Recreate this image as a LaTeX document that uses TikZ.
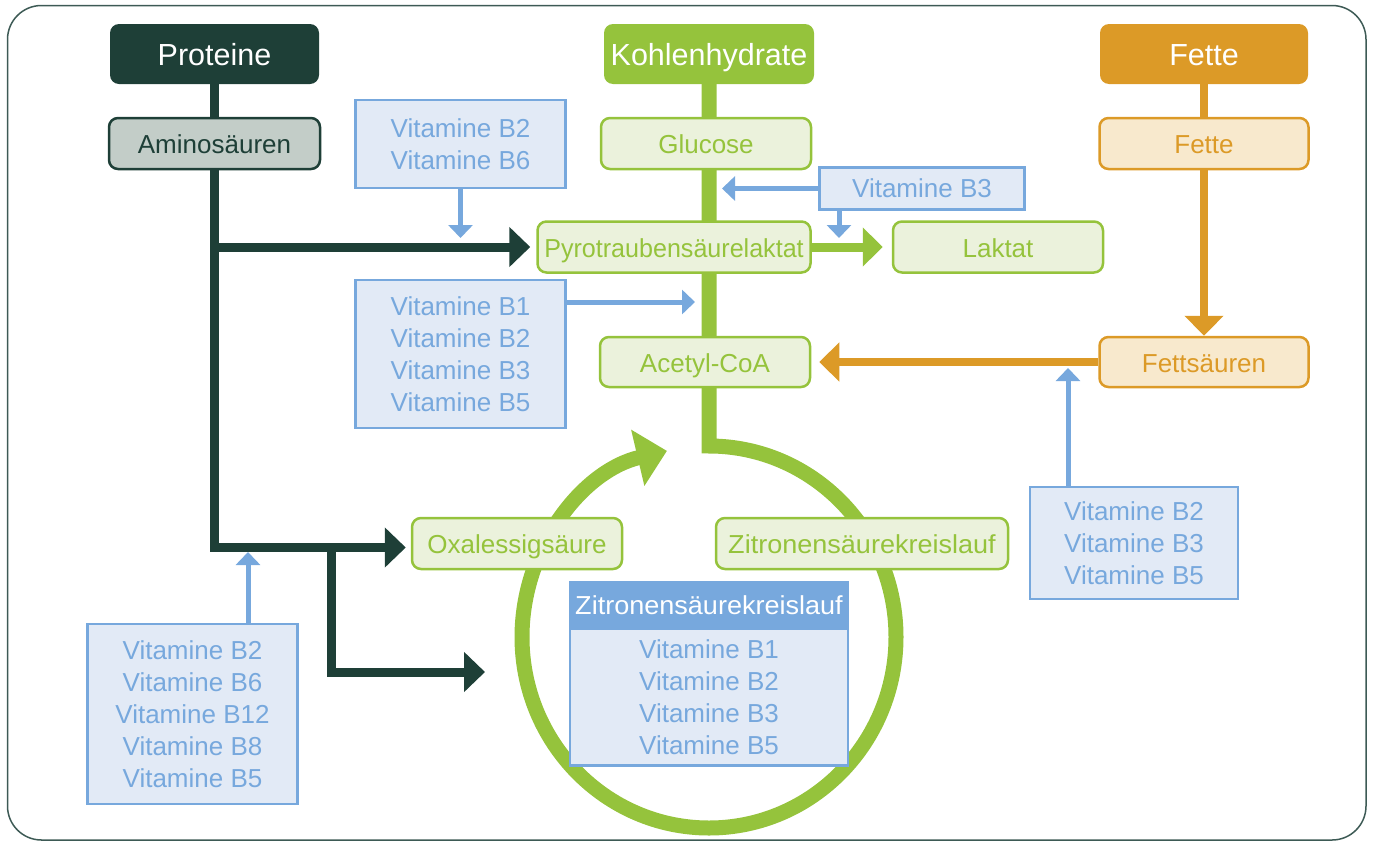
\documentclass[tikz,border=0pt]{standalone}
\usepackage{fontspec}
\setmainfont{Liberation Sans}
\usetikzlibrary{arrows.meta}
\definecolor{dkg}{HTML}{1E3F37}
\definecolor{amf}{HTML}{C3CDC8}
\definecolor{grn}{HTML}{95C33C}
\definecolor{gfill}{HTML}{EBF2DC}
\definecolor{org}{HTML}{DC9A27}
\definecolor{ofill}{HTML}{F8E9CD}
\definecolor{vblue}{HTML}{77A8DD}
\definecolor{vlight}{HTML}{E2EAF6}
\definecolor{frm}{HTML}{3D5A55}
\pgfdeclarelayer{bg}
\pgfsetlayers{bg,main}
\begin{document}
\begin{tikzpicture}[x=1pt,y=1pt,
  head/.style={rounded corners=9pt, minimum height=60pt, text=white, font=\fontsize{30.5}{36}\selectfont, inner sep=0pt, text height=23pt, text depth=0pt},
  sbox/.style={rounded corners=9pt, line width=2.5pt, minimum height=51pt, font=\fontsize{26}{32}\selectfont, inner sep=0pt, text height=20pt, text depth=0pt},
  gbox/.style={sbox, draw=grn, fill=gfill, text=grn},
  obox/.style={sbox, draw=org, fill=ofill, text=org},
  vbox/.style={draw=vblue, fill=vlight, line width=2.5pt, text=vblue, align=center, font=\fontsize{26}{32}\selectfont, inner sep=0pt},
  dkl/.style={draw=dkg, line width=9pt, line join=miter},
  dka/.style={dkl, -{Triangle[length=21pt,width=39pt]}},
  orl/.style={draw=org, line width=8pt},
  ora/.style={orl, -{Triangle[length=20pt,width=38pt]}},
  gra/.style={draw=grn, line width=9pt, -{Triangle[length=20pt,width=38pt]}},
  bla/.style={draw=vblue, line width=5pt, -{Triangle[length=13pt,width=24pt]}},
  frame/.style={draw=frm, line width=1.5pt, rounded corners=34pt}
]
\useasboundingbox (0,0) rectangle (1373,-841);

% nodes
\node[head, fill=dkg, minimum width=209pt] (prot) at (214.5,-54) {Proteine};
\node[head, fill=grn, minimum width=210pt] (kohl) at (709,-54) {Kohlenhydrate};
\node[head, fill=org, minimum width=208pt] (fetH) at (1204,-54) {Fette};
\node[sbox, draw=dkg, fill=amf, text=dkg, minimum width=211pt] (amino) at (214.5,-143.5) {Aminosäuren};
\node[gbox, minimum width=210pt] (gluc) at (706,-143.5) {Glucose};
\node[obox, minimum width=209pt] (fette) at (1204,-143.5) {Fette};
\node[vbox, minimum width=210pt, minimum height=88pt] (vb26) at (460.5,-144) {Vitamine B2\\Vitamine B6};
\node[vbox, minimum width=205pt, minimum height=42pt] (vb3) at (922,-188.5) {Vitamine B3};
\node[gbox, minimum width=273pt] (pyro) at (674,-247) {\scalebox{0.965}[1]{Pyrotraubensäurelaktat}};
\node[gbox, minimum width=210pt] (lakt) at (998,-247) {Laktat};
\node[vbox, minimum width=210pt, minimum height=148pt] (vb1235) at (460.5,-354) {Vitamine B1\\Vitamine B2\\Vitamine B3\\Vitamine B5};
\node[gbox, minimum width=210pt, minimum height=50pt] (acet) at (705,-362) {Acetyl-CoA};
\node[obox, minimum width=209pt, minimum height=50pt] (fetts) at (1204,-362) {Fettsäuren};
\node[vbox, minimum width=208pt, minimum height=112pt] (vr) at (1134,-543) {Vitamine B2\\Vitamine B3\\Vitamine B5};
\node[gbox, minimum width=210pt] (oxal) at (517,-543.5) {Oxalessigsäure};
\node[gbox, minimum width=292pt] (zitr) at (862,-543.5) {\scalebox{1.04}[1]{Zitronensäurekreislauf}};
\node[draw=vblue, fill=vblue, line width=2.5pt, minimum width=278pt, minimum height=46pt, text=white, font=\fontsize{26}{30}\selectfont, inner sep=0pt] (zhead) at (709,-605) {\scalebox{1.04}[1]{Zitronensäurekreislauf}};
\node[vbox, minimum width=278pt, minimum height=137pt] (zbody) at (709,-697) {Vitamine B1\\Vitamine B2\\Vitamine B3\\Vitamine B5};
\node[vbox, minimum width=210pt, minimum height=180pt] (vbl) at (192.5,-714) {Vitamine B2\\Vitamine B6\\Vitamine B12\\Vitamine B8\\Vitamine B5};

% free ends
\coordinate (c1) at (214.5,-547.5);
\coordinate (c2) at (331,-547.5);
\coordinate (c3) at (485,-672);
\coordinate (top) at (709,-446);
\coordinate (t1) at (460.5,-238);
\coordinate (t2) at (722,-188.5);
\coordinate (t3) at (839,-238);
\coordinate (t4) at (695,-302);
\coordinate (t5) at (1068,-368);
\coordinate (t6) at (248,-552);

\begin{pgfonlayer}{bg}
\draw[frame] (7.5,-5.5) rectangle (1366,-840);
% carbohydrate trunk and cycle
\draw[draw=grn, line width=15pt, line join=miter, -{Triangle[length=30pt,width=56pt]}] (kohl.south) -- (top) arc[start angle=90, end angle=-257, x radius=187pt, y radius=191pt];
% proteins
\draw[dkl] (prot.south) -- (amino.north);
\draw[dka, shorten >=5pt] (amino.south) -- (c1) -- (c1 -| oxal.west);
\draw[dka, shorten >=6pt] (amino.south |- pyro.west) -- (pyro.west);
\draw[dka] (c2) -- (c2 |- c3) -- (c3);
% fats
\draw[orl] (fetH.south) -- (fette.north);
\draw[ora] (fette.south) -- (fetts.north);
\draw[ora, shorten >=8pt] (fetts.west) -- (acet.east);
% lactate
\draw[gra, shorten >=9pt] (pyro.east) -- (lakt.west);
% vitamins
\draw[bla] (vb26.south) -- (t1);
\draw[bla] (vb3.west) -- (t2);
\draw[bla] (vb3.south -| t3) -- (t3);
\draw[bla] (vb1235.east |- t4) -- (t4);
\draw[bla] (vr.north -| t5) -- (t5);
\draw[bla] (vbl.north -| t6) -- (t6);
\end{pgfonlayer}
\end{tikzpicture}
\end{document}
